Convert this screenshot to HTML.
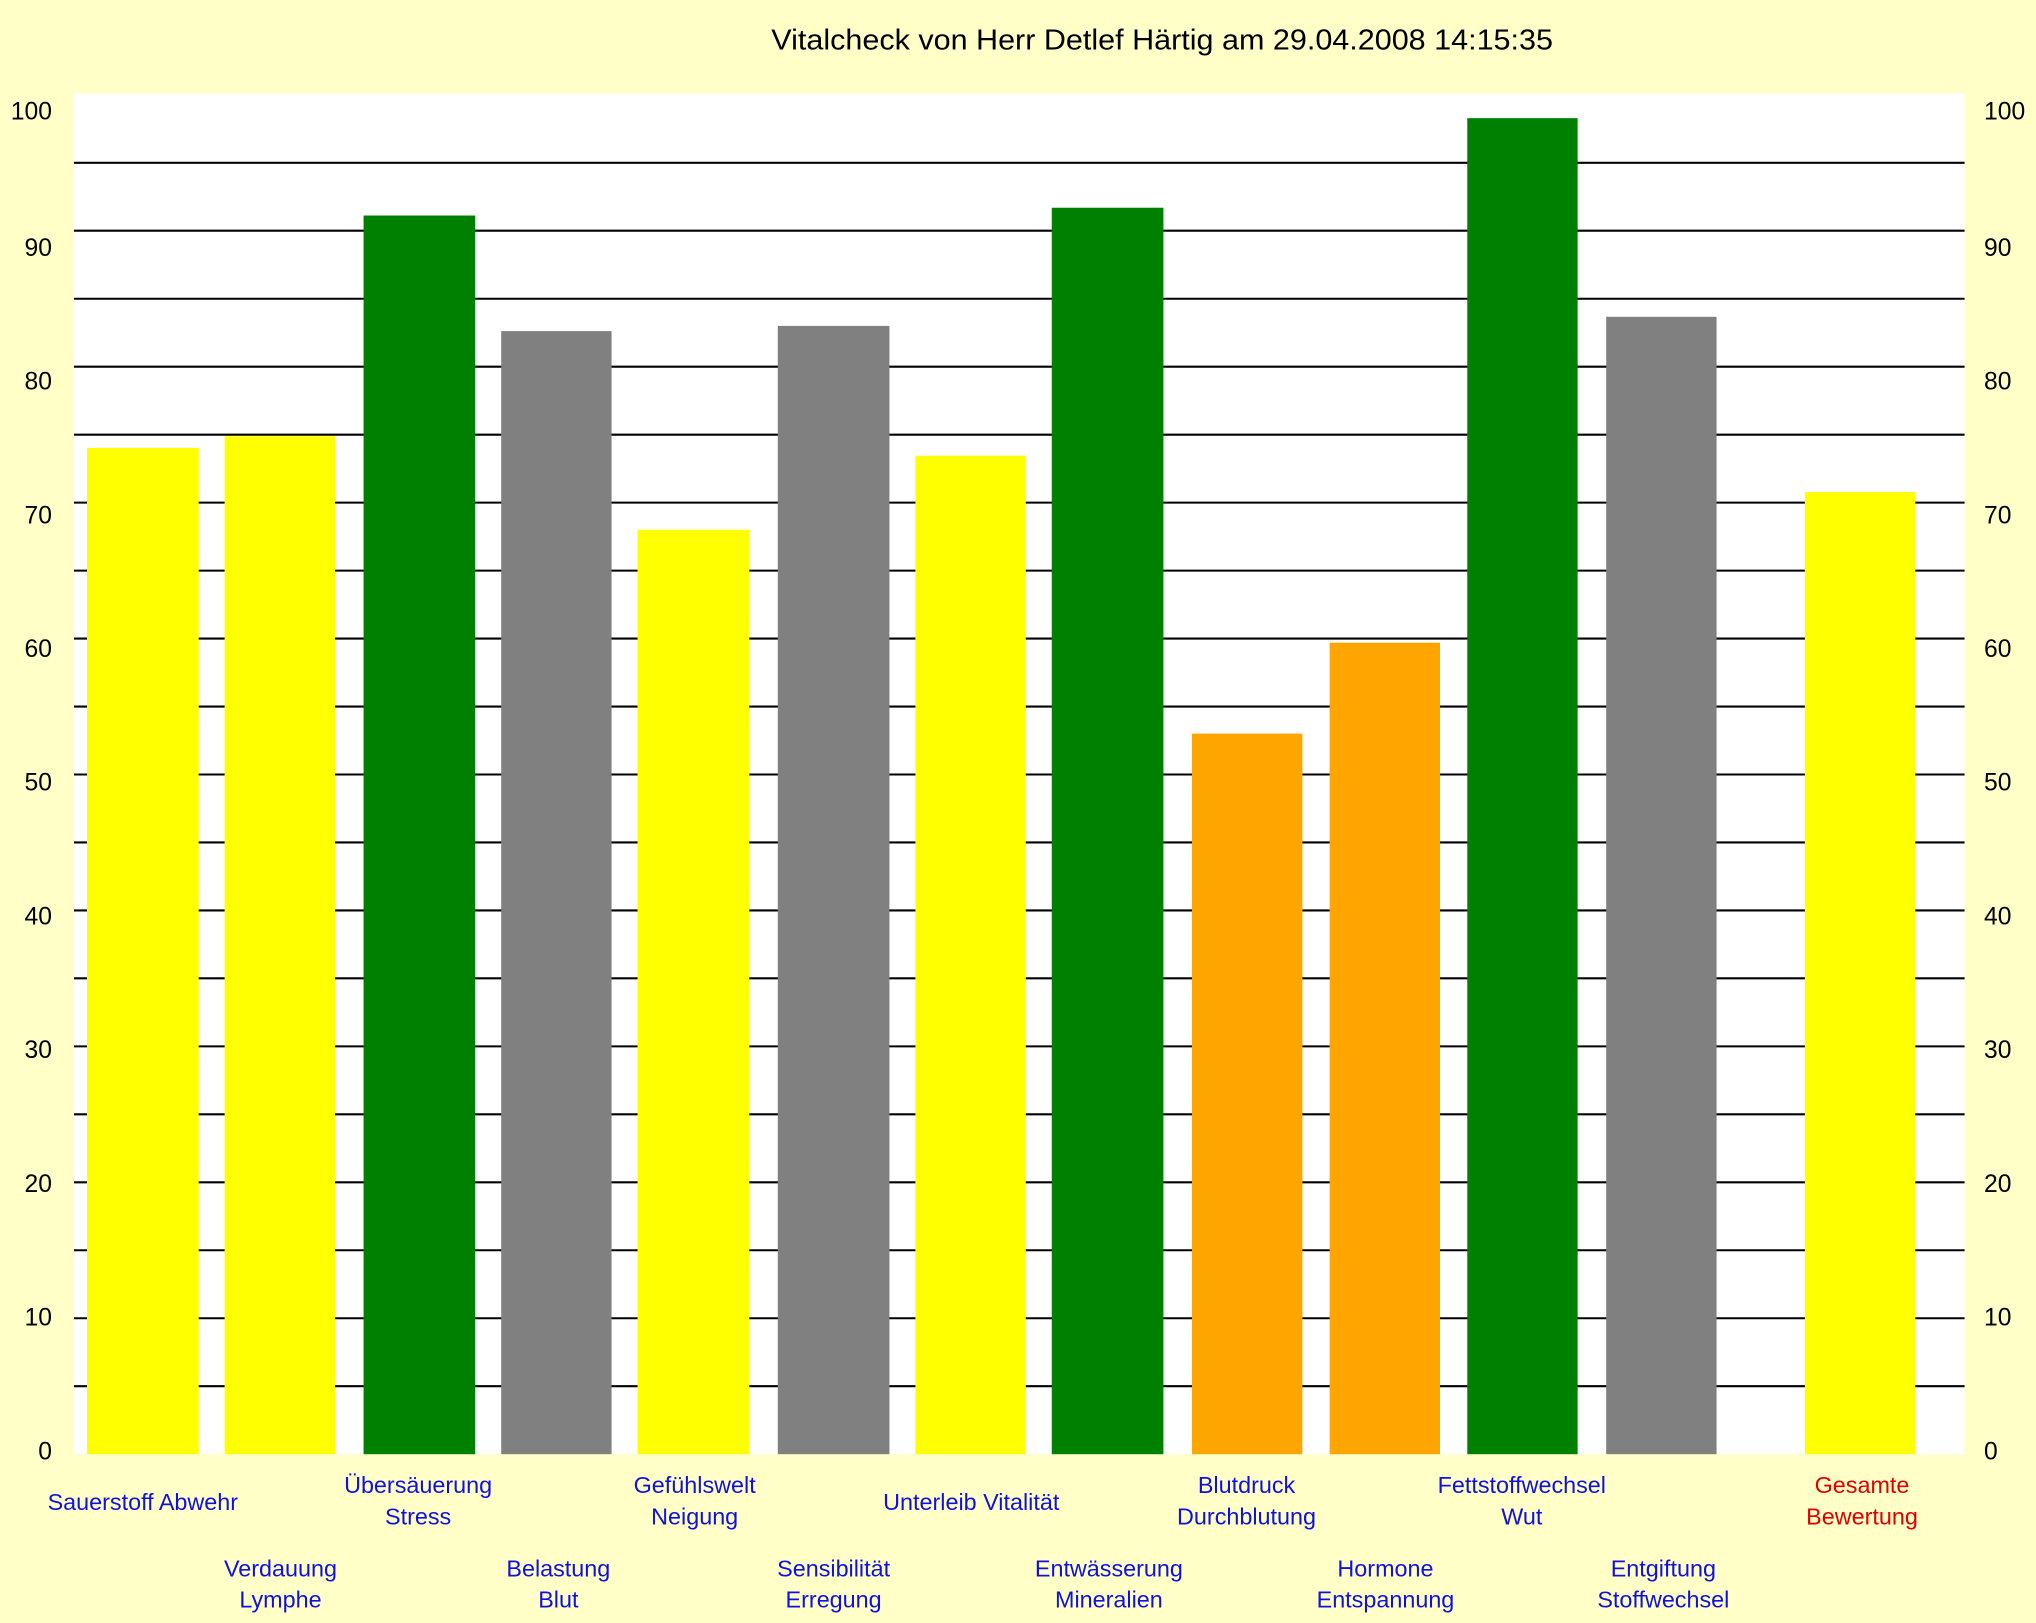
<!DOCTYPE html>
<html><head><meta charset="utf-8"><style>
html,body{margin:0;padding:0;background:#ffffc8;}
svg{display:block;}
text{font-family:"Liberation Sans",sans-serif;}
</style></head><body>
<svg width="2036" height="1623" viewBox="0 0 1568 1250" preserveAspectRatio="none" xmlns="http://www.w3.org/2000/svg">
<rect width="1568" height="1250" fill="#ffffc8"/>
<text x="594" y="38" font-size="22" textLength="602" lengthAdjust="spacingAndGlyphs" fill="#000">Vitalcheck von Herr Detlef Härtig am 29.04.2008 14:15:35</text>
<rect x="57" y="72" width="1456" height="1048" fill="#fff"/>
<g stroke="#000" stroke-width="1.6">
<line x1="57" x2="1513" y1="1067.6" y2="1067.6"/><line x1="57" x2="1513" y1="1015.3" y2="1015.3"/>
<line x1="57" x2="1513" y1="962.9" y2="962.9"/><line x1="57" x2="1513" y1="910.6" y2="910.6"/>
<line x1="57" x2="1513" y1="858.2" y2="858.2"/><line x1="57" x2="1513" y1="805.9" y2="805.9"/>
<line x1="57" x2="1513" y1="753.5" y2="753.5"/><line x1="57" x2="1513" y1="701.2" y2="701.2"/>
<line x1="57" x2="1513" y1="648.8" y2="648.8"/><line x1="57" x2="1513" y1="596.5" y2="596.5"/>
<line x1="57" x2="1513" y1="544.2" y2="544.2"/><line x1="57" x2="1513" y1="491.8" y2="491.8"/>
<line x1="57" x2="1513" y1="439.5" y2="439.5"/><line x1="57" x2="1513" y1="387.1" y2="387.1"/>
<line x1="57" x2="1513" y1="334.8" y2="334.8"/><line x1="57" x2="1513" y1="282.4" y2="282.4"/>
<line x1="57" x2="1513" y1="230.1" y2="230.1"/><line x1="57" x2="1513" y1="177.7" y2="177.7"/>
<line x1="57" x2="1513" y1="125.4" y2="125.4"/>
</g>
<rect x="67" y="345" width="86" height="775" fill="#ffff00"/>
<rect x="173" y="336" width="85" height="784" fill="#ffff00"/>
<rect x="280" y="166" width="86" height="954" fill="#008000"/>
<rect x="386" y="255" width="85" height="865" fill="#808080"/>
<rect x="491" y="408" width="86" height="712" fill="#ffff00"/>
<rect x="599" y="251" width="86" height="869" fill="#808080"/>
<rect x="705" y="351" width="85" height="769" fill="#ffff00"/>
<rect x="810" y="160" width="86" height="960" fill="#008000"/>
<rect x="918" y="565" width="85" height="555" fill="#ffa500"/>
<rect x="1024" y="495" width="85" height="625" fill="#ffa500"/>
<rect x="1130" y="91" width="85" height="1029" fill="#008000"/>
<rect x="1237" y="244" width="85" height="876" fill="#808080"/>
<rect x="1390" y="379" width="85" height="741" fill="#ffff00"/>
<g font-size="19" fill="#000" text-anchor="end">
<text x="40" y="92">100</text><text x="40" y="197">90</text><text x="40" y="300">80</text><text x="40" y="403">70</text><text x="40" y="506">60</text><text x="40" y="609">50</text><text x="40" y="712">40</text><text x="40" y="815">30</text><text x="40" y="918">20</text><text x="40" y="1021">10</text><text x="40" y="1124">0</text>
</g>
<g font-size="19" fill="#000">
<text x="1528" y="92">100</text><text x="1528" y="197">90</text><text x="1528" y="300">80</text><text x="1528" y="403">70</text><text x="1528" y="506">60</text><text x="1528" y="609">50</text><text x="1528" y="712">40</text><text x="1528" y="815">30</text><text x="1528" y="918">20</text><text x="1528" y="1021">10</text><text x="1528" y="1124">0</text>
</g>
<g font-size="18" fill="#1010e0" text-anchor="middle">
<text x="110" y="1163">Sauerstoff Abwehr</text>
<text x="216" y="1214">Verdauung</text><text x="216" y="1238">Lymphe</text>
<text x="322" y="1150">Übersäuerung</text><text x="322" y="1174">Stress</text>
<text x="430" y="1214">Belastung</text><text x="430" y="1238">Blut</text>
<text x="535" y="1150">Gefühlswelt</text><text x="535" y="1174">Neigung</text>
<text x="642" y="1214">Sensibilität</text><text x="642" y="1238">Erregung</text>
<text x="748" y="1163">Unterleib Vitalität</text>
<text x="854" y="1214">Entwässerung</text><text x="854" y="1238">Mineralien</text>
<text x="960" y="1150">Blutdruck</text><text x="960" y="1174">Durchblutung</text>
<text x="1067" y="1214">Hormone</text><text x="1067" y="1238">Entspannung</text>
<text x="1172" y="1150">Fettstoffwechsel</text><text x="1172" y="1174">Wut</text>
<text x="1281" y="1214">Entgiftung</text><text x="1281" y="1238">Stoffwechsel</text>
</g>
<g font-size="18" fill="#e00000" text-anchor="middle">
<text x="1434" y="1150">Gesamte</text><text x="1434" y="1174">Bewertung</text>
</g>
</svg>
</body></html>
